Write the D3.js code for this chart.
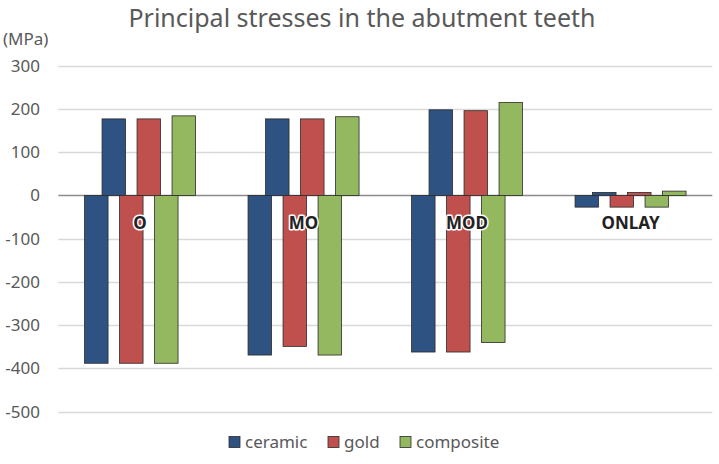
<!DOCTYPE html>
<html><head><meta charset="utf-8">
<script src="https://cdn.jsdelivr.net/npm/d3@7"></script>
<style>
body{margin:0;background:#fff;}
svg{display:block;font-family:"Noto Sans","Open Sans",sans-serif;}
</style></head>
<body><svg id="c" width="719" height="464"></svg>
<script>
const categories = ["O", "MO", "MOD", "ONLAY"];
const series = ["ceramic", "gold", "composite"];
const colors = ["#2E5282", "#C0504D", "#94B85F"];
// maximum (tensile) principal stresses, MPa
const maxCeramic = [177, 177, 198, 7];
const maxGold = [177, 177, 196, 7];
const maxComposite = [184, 182, 215, 10];
// minimum (compressive) principal stresses, MPa
const minCeramic = [-388, -369, -362, -27];
const minGold = [-388, -349, -362, -27];
const minComposite = [-388, -369, -340, -27];
const yTicks = [-500, -400, -300, -200, -100, 0, 100, 200, 300];

const maxVals = [maxCeramic, maxGold, maxComposite];
const minVals = [minCeramic, minGold, minComposite];

const svg = d3.select("#c");
const left = 58.3, right = 712.3;
const y = d3.scaleLinear().domain([-500, 300]).range([411.7, 65.7]);
const x = d3.scaleBand().domain(categories).range([left, right]);
const inner = d3.scalePoint().domain(series).range([-35, 35]);
const bw = 23.5, shift = 8.75;

// grid
svg.append("g").selectAll("line").data(yTicks).join("line")
  .attr("x1", left).attr("x2", right)
  .attr("y1", d => Math.round(y(d)) + 0.5).attr("y2", d => Math.round(y(d)) + 0.5)
  .attr("stroke", d => d === 0 ? "#8c8c8c" : "#d9d9d9").attr("stroke-width", 1.3);

// y labels
svg.append("g").selectAll("text").data(yTicks).join("text")
  .attr("x", 40).attr("y", d => y(d)).attr("dy", "0.35em")
  .attr("text-anchor", "end").attr("font-size", 17).attr("fill", "#595959")
  .text(d => d);

svg.append("text").attr("x", 3).attr("y", 45).attr("font-size", 17).attr("fill", "#595959").text("(MPa)");

// title
svg.append("text").attr("x", 362).attr("y", 27).attr("text-anchor", "middle")
  .attr("font-size", 25).attr("fill", "#595959").text("Principal stresses in the abutment teeth");

// bars
const bars = [];
series.forEach((s, i) => {
  categories.forEach((c, j) => {
    bars.push({ s, i, c, v: minVals[i][j], off: -shift });
    bars.push({ s, i, c, v: maxVals[i][j], off: shift });
  });
});
svg.append("g").selectAll("rect").data(bars).join("rect")
  .attr("x", d => x(d.c) + x.bandwidth() / 2 + inner(d.s) + d.off - bw / 2)
  .attr("width", bw)
  .attr("y", d => Math.min(y(d.v), y(0)))
  .attr("height", d => Math.abs(y(d.v) - y(0)))
  .attr("fill", d => colors[d.i])
  .attr("stroke", "#2b2b2b").attr("stroke-width", 0.8);

// category labels
svg.append("g").selectAll("text").data(categories).join("text")
  .attr("x", d => x(d) + x.bandwidth() / 2)
  .attr("y", 223).attr("dy", "0.35em").attr("text-anchor", "middle")
  .attr("font-size", 17).attr("font-weight", "bold").attr("fill", "#222")
  .attr("stroke", "#fff").attr("stroke-width", 3).attr("paint-order", "stroke")
  .attr("stroke-linejoin", "round")
  .text(d => d);

// legend
const legX = [229, 328, 400];
const lg = svg.append("g").selectAll("g").data(series).join("g")
  .attr("transform", (d, i) => `translate(${legX[i]},442)`);
lg.append("rect").attr("x", 0).attr("y", -5.5).attr("width", 11).attr("height", 11)
  .attr("fill", (d, i) => colors[i]).attr("stroke", "#2b2b2b").attr("stroke-width", 0.8);
lg.append("text").attr("x", 16).attr("dy", "0.35em").attr("font-size", 17).attr("fill", "#595959").text(d => d);
</script></body></html>
